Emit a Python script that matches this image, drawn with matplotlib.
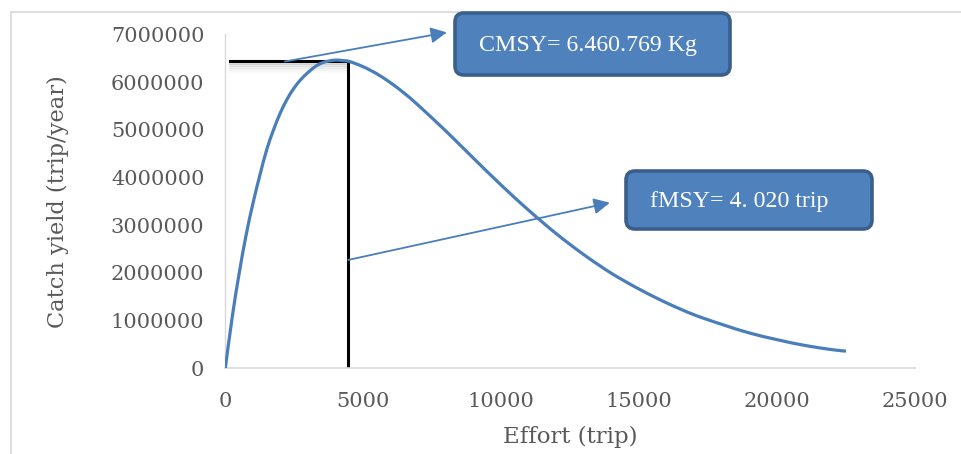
import matplotlib
matplotlib.use('Agg')
import matplotlib.pyplot as plt
import numpy as np
from matplotlib.patches import FancyBboxPatch, PathPatch
from matplotlib.path import Path
from matplotlib.lines import Line2D

# effort (trip) vs catch yield
effort = [0, 250, 500, 750, 1000, 1250, 1500, 1750, 2000, 2250, 2500, 2750,
          3000, 3250, 3500, 3750, 4020, 4250, 4500, 5000, 5500, 6000, 6500,
          7000, 8000, 9000, 10000, 11000, 12000, 13000, 14000, 15000, 16000,
          17000, 18000, 19000, 20000, 21000, 22000, 22500]
catch = [0, 1070000, 1980000, 2780000, 3450000, 4040000, 4580000, 5000000,
         5360000, 5650000, 5880000, 6060000, 6200000, 6320000, 6400000,
         6440000, 6460769, 6450000, 6430000, 6320000, 6170000, 5980000,
         5760000, 5510000, 4970000, 4400000, 3840000, 3310000, 2820000,
         2380000, 1990000, 1660000, 1370000, 1120000, 920000, 740000, 600000,
         480000, 390000, 360000]

f_line = 4430      # where the black guide line sits in the picture
c_line = 6450000
xticks = [0, 5000, 10000, 15000, 20000, 25000]
yticks = [0, 1000000, 2000000, 3000000, 4000000, 5000000, 6000000, 7000000]

BLUE = '#4a7ebb'
BOX_FILL = '#4f81bd'
BOX_EDGE = '#3a5f8b'
GREY_TXT = '#595959'


def smooth_path(xs, ys):
    # Excel style smoothed line: Catmull-Rom segments as cubic Beziers
    p = np.column_stack([xs, ys]).astype(float)
    verts = [p[0]]
    codes = [Path.MOVETO]
    for i in range(len(p) - 1):
        p0 = p[i - 1] if i > 0 else p[i]
        p1, p2 = p[i], p[i + 1]
        p3 = p[i + 2] if i + 2 < len(p) else p[i + 1]
        verts += [p1 + (p2 - p0) / 6, p2 - (p3 - p1) / 6, p2]
        codes += [Path.CURVE4] * 3
    return Path(verts, codes)


fig = plt.figure(figsize=(9.62, 4.54), dpi=100)
ax = fig.add_axes([0.2342, 0.1888, 0.9511 - 0.2342, 0.9244 - 0.1888])

ax.add_patch(PathPatch(smooth_path(effort, catch), facecolor='none', edgecolor=BLUE,
                       lw=2.3, capstyle='butt', zorder=3))

# guide lines with a soft shadow under the horizontal one
for k, a in [(1, 0.25), (2, 0.18), (3, 0.12), (4, 0.07), (5, 0.04)]:
    ax.plot([170, f_line], [c_line - k * 45000, c_line - k * 45000], color='#808080',
            lw=2, alpha=a, zorder=1)
ax.plot([170, f_line, f_line], [c_line, c_line, 0], color='black', lw=2.2,
        solid_joinstyle='round', zorder=2)

ax.set_xlim(0, 25000)
ax.set_ylim(0, 7000000)
ax.set_xticks(xticks)
ax.set_yticks(yticks)
ax.set_xticklabels([str(v) for v in xticks])
ax.set_yticklabels([str(v) for v in yticks])
ax.tick_params(length=0, labelsize=15, colors=GREY_TXT)
ax.tick_params(axis='x', pad=17)
ax.tick_params(axis='y', pad=15)
for lab in ax.get_xticklabels() + ax.get_yticklabels():
    lab.set_family('DejaVu Serif')

for s in ['top', 'right']:
    ax.spines[s].set_visible(False)
ax.spines['left'].set_color('#d9d9d9')
ax.spines['bottom'].set_color('#d9d9d9')
ax.spines['left'].set_linewidth(1.0)
ax.spines['bottom'].set_linewidth(1.2)

ax.set_xlabel('Effort (trip)', family='DejaVu Serif', fontsize=16.5, color=GREY_TXT, va='center')
ax.set_ylabel('Catch yield (trip/year)', family='DejaVu Serif', fontsize=16.2, color=GREY_TXT,
              va='center')
ax.xaxis.set_label_coords(0.5, -0.206)
ax.yaxis.set_label_coords(-0.2426, 0.5)

# callout arrows
ap = dict(arrowstyle='-|>', color=BLUE, lw=1.3, mutation_scale=24, shrinkA=0, shrinkB=0)
ax.annotate('', xy=(8030, 7040000), xytext=(2160, 6430000), arrowprops=ap, annotation_clip=False)
ax.annotate('', xy=(13940, 3470000), xytext=(4450, 2270000), arrowprops=ap, annotation_clip=False)

# callout boxes (inch coordinates)
for x0, y0, w, h in [(4.55, 3.79, 2.75, 0.62), (6.26, 2.25, 2.46, 0.58)]:
    box = FancyBboxPatch((x0, y0), w, h, boxstyle='round,pad=0,rounding_size=0.09',
                         transform=fig.dpi_scale_trans, facecolor=BOX_FILL,
                         edgecolor=BOX_EDGE, lw=2.6, zorder=5)
    fig.add_artist(box)

fig.text(479 / 962, 1 - 46 / 454, 'CMSY= 6.460.769 Kg', family='Liberation Serif',
         fontsize=17.2, color='white', va='center', ha='left', zorder=6)
fig.text(650 / 962, 1 - 201 / 454, 'fMSY= 4. 020 trip', family='Liberation Serif',
         fontsize=17.2, color='white', va='center', ha='left', zorder=6)

# chart area border
fig.add_artist(Line2D([11 / 962, 11 / 962], [0, 1 - 12 / 454], transform=fig.transFigure,
                      color='#d9d9d9', lw=1.2))
fig.add_artist(Line2D([11 / 962, 1], [1 - 12 / 454, 1 - 12 / 454], transform=fig.transFigure,
                      color='#d9d9d9', lw=1.2))

fig.savefig('out.png', dpi=100)
